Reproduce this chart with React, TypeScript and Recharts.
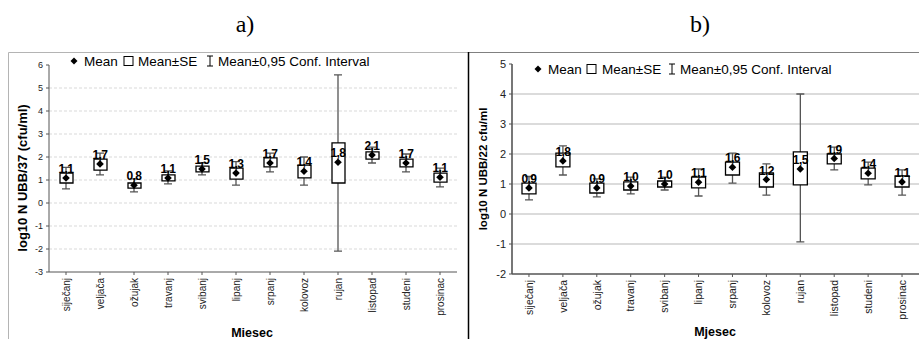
import React from "react";
import { ComposedChart, Bar, Scatter, XAxis, YAxis, CartesianGrid } from "recharts";

// months (x categories)
const months = [
  "siječanj", "veljača", "ožujak", "travanj", "svibanj", "lipanj",
  "srpanj", "kolovoz", "rujan", "listopad", "studeni", "prosinac",
];

// a) log10 N UBB/37
const aMean = [1.09, 1.7, 0.77, 1.09, 1.48, 1.3, 1.74, 1.38, 1.77, 2.09, 1.74, 1.12];
const aSeLow = [0.87, 1.43, 0.65, 0.96, 1.35, 1.04, 1.57, 1.09, 0.87, 1.91, 1.57, 0.91];
const aSeHigh = [1.3, 1.91, 0.87, 1.22, 1.6, 1.52, 1.96, 1.65, 2.61, 2.22, 1.91, 1.3];
const aCiLow = [0.61, 1.22, 0.48, 0.83, 1.22, 0.78, 1.35, 0.78, -2.09, 1.74, 1.35, 0.7];
const aCiHigh = [1.55, 2.17, 1.05, 1.4, 1.75, 1.8, 2.17, 2.0, 5.57, 2.43, 2.13, 1.52];
const aLabels = ["1,1", "1,7", "0,8", "1,1", "1,5", "1,3", "1,7", "1,4", "1,8", "2,1", "1,7", "1,1"];
const aTicks = [-3, -2, -1, 0, 1, 2, 3, 4, 5, 6];

// b) log10 N UBB/22
const bMean = [0.87, 1.77, 0.87, 0.93, 1.0, 1.06, 1.56, 1.15, 1.5, 1.85, 1.36, 1.07];
const bSeLow = [0.67, 1.57, 0.7, 0.8, 0.9, 0.87, 1.3, 0.9, 0.97, 1.67, 1.17, 0.9];
const bSeHigh = [1.03, 2.03, 1.03, 1.07, 1.1, 1.23, 1.73, 1.37, 2.07, 2.0, 1.53, 1.27];
const bCiLow = [0.47, 1.3, 0.57, 0.67, 0.8, 0.6, 1.03, 0.63, -0.93, 1.47, 0.97, 0.63];
const bCiHigh = [1.25, 2.27, 1.17, 1.23, 1.23, 1.5, 2.03, 1.67, 4.0, 2.23, 1.73, 1.47];
const bLabels = ["0,9", "1,8", "0,9", "1,0", "1,0", "1,1", "1,6", "1,2", "1,5", "1,9", "1,4", "1,1"];
const bTicks = [-2, -1, 0, 1, 2, 3, 4, 5];

const FONT = '"Liberation Sans", Arial, sans-serif';

function buildRows(mean: number[], seLow: number[], seHigh: number[], ciLow: number[], ciHigh: number[], labels: string[]) {
  return months.map((m, i) => ({
    month: m,
    mean: mean[i],
    se: [seLow[i], seHigh[i]],
    ci: [ciLow[i], ciHigh[i]],
    label: labels[i],
  }));
}

const MeanMark = (props: any) => {
  const { cx, cy, payload } = props;
  if (cx == null || cy == null) return null;
  const r = 3.8;
  return (
    <g>
      <path d={`M${cx},${cy - r}L${cx + r},${cy}L${cx},${cy + r}L${cx - r},${cy}Z`} fill="#000" />
      <text x={cx} y={cy - 5} textAnchor="middle" fontSize={12} fontWeight="bold" letterSpacing={-0.6} fill="#000" fontFamily={FONT}>
        {payload.label}
      </text>
    </g>
  );
};

// whisker drawn from the range bar's box: vertical line with end caps
const Whisker = (props: any) => {
  const { x, y, width, height } = props;
  if (x == null || y == null) return null;
  const mid = x + width / 2;
  return (
    <path
      d={`M${x},${y}H${x + width}M${mid},${y}V${y + height}M${x},${y + height}H${x + width}`}
      stroke="#555"
      strokeWidth={1.3}
      fill="none"
    />
  );
};

const MonthTick = (props: any) => {
  const { x, y, payload, fs } = props;
  return (
    <text transform={`translate(${x + fs * 0.36},${y + 1}) rotate(-90)`} textAnchor="end" fontSize={fs} fill="#222" fontFamily={FONT}>
      {payload.value}
    </text>
  );
};

interface ChartProps {
  rows: any[];
  ticks: number[];
  grid: number[];
  width: number;
  height: number;
  top: number;
  right: number;
  yWidth: number;
  xHeight: number;
  barSize: number;
  yFont: number;
  xFont: number;
  axisColor: string;
  axisWidth: number;
  gridColor: string;
  gridDash?: string;
  gridWidth: number;
}

function BoxChart(p: ChartProps) {
  return (
    <ComposedChart width={p.width} height={p.height} data={p.rows} margin={{ top: p.top, right: p.right, left: 0, bottom: 0 }} barCategoryGap={0}>
      <CartesianGrid vertical={false} horizontalValues={p.grid} stroke={p.gridColor} strokeDasharray={p.gridDash} strokeWidth={p.gridWidth} />
      <XAxis
        dataKey="month"
        interval={0}
        height={p.xHeight}
        tickSize={3}
        tickMargin={2}
        tick={<MonthTick fs={p.xFont} />}
        stroke={p.axisColor}
        axisLine={{ stroke: p.axisColor, strokeWidth: p.axisWidth }}
        tickLine={{ stroke: p.axisColor }}
      />
      <XAxis xAxisId="ci" dataKey="month" hide height={0} />
      <YAxis
        type="number"
        width={p.yWidth}
        domain={[p.ticks[0], p.ticks[p.ticks.length - 1]]}
        ticks={p.ticks}
        allowDataOverflow
        interval={0}
        tickSize={3}
        tickMargin={3}
        tick={{ fontSize: p.yFont, fill: "#222", fontFamily: FONT }}
        axisLine={{ stroke: p.axisColor, strokeWidth: p.axisWidth }}
        tickLine={{ stroke: p.axisColor }}
      />
      <Bar xAxisId="ci" dataKey="ci" barSize={8} shape={Whisker} isAnimationActive={false} />
      <Bar dataKey="se" barSize={p.barSize} fill="#fff" stroke="#000" strokeWidth={1.3} isAnimationActive={false} />
      <Scatter dataKey="mean" shape={MeanMark} isAnimationActive={false} />
    </ComposedChart>
  );
}

const rowsA = buildRows(aMean, aSeLow, aSeHigh, aCiLow, aCiHigh, aLabels);
const rowsB = buildRows(bMean, bSeLow, bSeHigh, bCiLow, bCiHigh, bLabels);

function LegendRow({ x, y, pos }: { x: number; y: number; pos: number[] }) {
  const fs = 13.5;
  return (
    <g fontFamily={FONT} fontSize={fs} fill="#000">
      <path d={`M${x},${y - 3.5}L${x + 3.5},${y}L${x},${y + 3.5}L${x - 3.5},${y}Z`} fill="#000" />
      <text x={x + pos[0]} y={y} dominantBaseline="central">Mean</text>
      <rect x={x + pos[1]} y={y - 4.5} width={9} height={9} fill="#fff" stroke="#000" strokeWidth={1} />
      <text x={x + pos[2]} y={y} dominantBaseline="central">Mean±SE</text>
      <path d={`M${x + pos[3] - 3},${y - 5}H${x + pos[3] + 3}M${x + pos[3]},${y - 5}V${y + 5}M${x + pos[3] - 3},${y + 5}H${x + pos[3] + 3}`} stroke="#000" strokeWidth={1} fill="none" />
      <text x={x + pos[4]} y={y} dominantBaseline="central">Mean±0,95 Conf. Interval</text>
    </g>
  );
}

export default function App() {
  return (
    <div style={{ position: "absolute", left: 0, top: 0, width: 919, height: 339, background: "#fff", overflow: "hidden" }}>
      <svg width={919} height={339} style={{ position: "absolute", left: 0, top: 0 }}>
        <text x={245} y={32} textAnchor="middle" fontFamily='"Liberation Serif", "Times New Roman", serif' fontSize={24}>a)</text>
        <text x={700} y={32} textAnchor="middle" fontFamily='"Liberation Serif", "Times New Roman", serif' fontSize={24}>b)</text>
        {/* frames */}
        <path d="M8.5,339V52.5H468" stroke="#b4b4b4" strokeWidth={1} fill="none" />
        <path d="M468,52.5H919" stroke="#808080" strokeWidth={1.2} fill="none" />
        <path d="M468.5,52V339" stroke="#000" strokeWidth={1.5} fill="none" />
        {/* legends */}
        <LegendRow x={74} y={61} pos={[10, 50, 64, 136, 144]} />
        <LegendRow x={538} y={69} pos={[10, 49, 64, 134, 142]} />
        {/* axis titles */}
        <text transform="translate(22,178) rotate(-90)" textAnchor="middle" dominantBaseline="central" fontFamily={FONT} fontWeight="bold" fontSize={13}>
          log10 N UBB/37 (cfu/ml)
        </text>
        <text transform="translate(483,169) rotate(-90)" textAnchor="middle" dominantBaseline="central" fontFamily={FONT} fontWeight="bold" fontSize={11.5}>
          log10 N UBB/22 cfu/ml
        </text>
        <text x={252} y={333} textAnchor="middle" dominantBaseline="central" fontFamily={FONT} fontWeight="bold" fontSize={12.5}>Miesec</text>
        <text x={715} y={332} textAnchor="middle" dominantBaseline="central" fontFamily={FONT} fontWeight="bold" fontSize={12.5}>Mjesec</text>
      </svg>
      <div style={{ position: "absolute", left: 8, top: 52 }}>
        <BoxChart
          rows={rowsA}
          ticks={aTicks}
          grid={[-2, -1, 0, 1, 2, 3, 4, 5]}
          width={452}
          height={287}
          top={13}
          right={3}
          yWidth={41}
          xHeight={67}
          barSize={13}
          yFont={9}
          xFont={10}
          axisColor="#555"
          axisWidth={1}
          gridColor="#d9d9d9"
          gridDash="3 2"
          gridWidth={1}
        />
      </div>
      <div style={{ position: "absolute", left: 468, top: 52 }}>
        <BoxChart
          rows={rowsB}
          ticks={bTicks}
          grid={[-1, 0, 1, 2, 3, 4]}
          width={451}
          height={287}
          top={12}
          right={0}
          yWidth={44}
          xHeight={65}
          barSize={14}
          yFont={11}
          xFont={10.5}
          axisColor="#555"
          axisWidth={1.6}
          gridColor="#cfcfcf"
          gridWidth={1.5}
        />
      </div>
    </div>
  );
}
